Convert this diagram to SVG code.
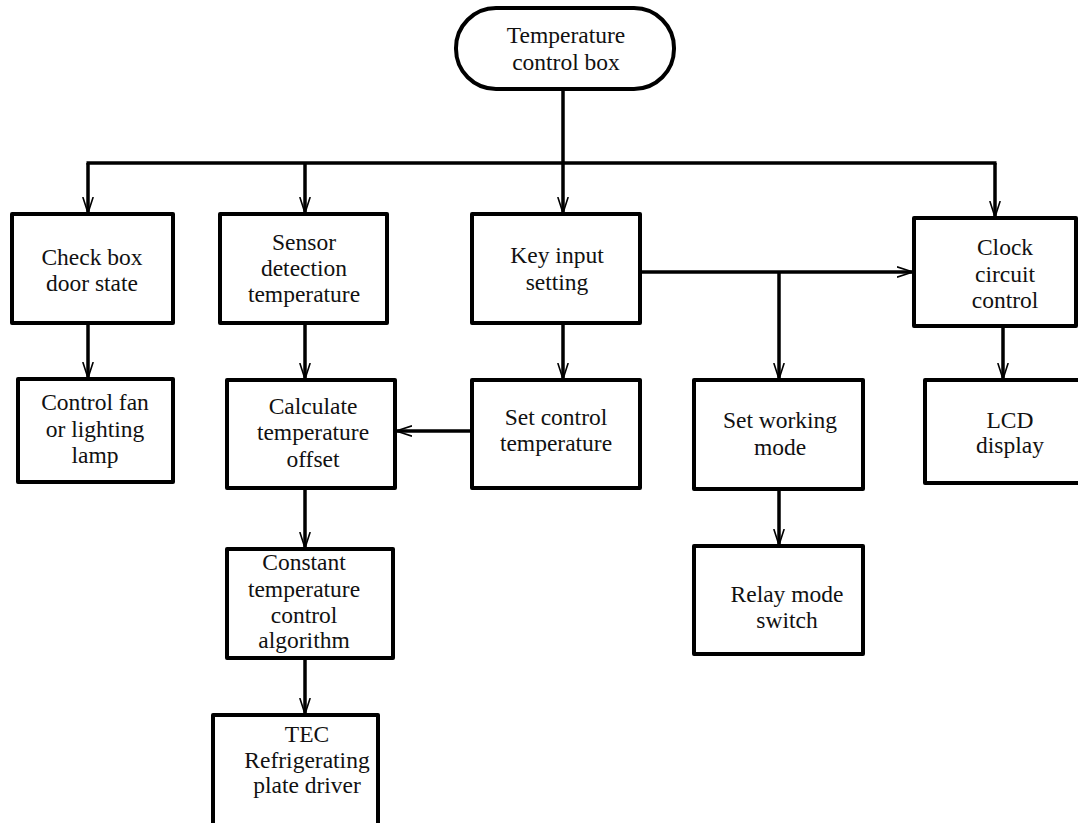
<svg xmlns="http://www.w3.org/2000/svg" width="1078" height="823" viewBox="0 0 1078 823">
<style>
.box{fill:#fff;stroke:#000;stroke-width:4;stroke-linejoin:round}
.ln{fill:none;stroke:#000;stroke-width:3.5}
text{font-family:"Liberation Serif","Times New Roman",serif;font-size:23.5px;fill:#111;text-anchor:middle}
</style>
<defs>
<marker id="ah" viewBox="0 0 16 12" refX="16" refY="6" markerWidth="16" markerHeight="12" markerUnits="userSpaceOnUse" orient="auto">
<path d="M0,0.8 L16,6 L0,11.2 M2,6 L16,6" fill="none" stroke="#000" stroke-width="1.6"/>
</marker>
</defs>
<rect width="1078" height="823" fill="#fff"/>
<g id="connectors">
<line class="ln" x1="563" y1="89" x2="563" y2="163"/>
<line class="ln" x1="86.5" y1="163" x2="996.5" y2="163"/>
<line class="ln" x1="88" y1="163" x2="88" y2="213" marker-end="url(#ah)"/>
<line class="ln" x1="305" y1="163" x2="305" y2="213" marker-end="url(#ah)"/>
<line class="ln" x1="563" y1="163" x2="563" y2="213" marker-end="url(#ah)"/>
<line class="ln" x1="995" y1="163" x2="995" y2="217" marker-end="url(#ah)"/>
<line class="ln" x1="640" y1="272" x2="913" y2="272" marker-end="url(#ah)"/>
<line class="ln" x1="779" y1="272" x2="779" y2="379" marker-end="url(#ah)"/>
<line class="ln" x1="88" y1="323" x2="88" y2="378" marker-end="url(#ah)"/>
<line class="ln" x1="305" y1="323" x2="305" y2="379" marker-end="url(#ah)"/>
<line class="ln" x1="563" y1="323" x2="563" y2="379" marker-end="url(#ah)"/>
<line class="ln" x1="1003" y1="326" x2="1003" y2="379" marker-end="url(#ah)"/>
<line class="ln" x1="472" y1="431" x2="396" y2="431" marker-end="url(#ah)"/>
<line class="ln" x1="305" y1="488" x2="305" y2="548" marker-end="url(#ah)"/>
<line class="ln" x1="305" y1="658" x2="305" y2="714" marker-end="url(#ah)"/>
<line class="ln" x1="779" y1="489" x2="779" y2="545" marker-end="url(#ah)"/>
</g>
<g id="n-root">
<rect class="box" x="456" y="8" width="218" height="81" rx="40" ry="40"/>
<text x="566" y="43">Temperature</text>
<text x="566" y="70">control box</text>
</g>
<g id="n-check">
<rect class="box" x="12" y="214" width="161" height="109"/>
<text x="92" y="265">Check box</text>
<text x="92" y="291">door state</text>
</g>
<g id="n-sensor">
<rect class="box" x="220" y="214" width="167" height="109"/>
<text x="304" y="250">Sensor</text>
<text x="304" y="276">detection</text>
<text x="304" y="302">temperature</text>
</g>
<g id="n-key">
<rect class="box" x="472" y="214" width="168" height="109"/>
<text x="557" y="263">Key input</text>
<text x="557" y="290">setting</text>
</g>
<g id="n-clock">
<rect class="box" x="914" y="218" width="162" height="108"/>
<text x="1005" y="255">Clock</text>
<text x="1005" y="282">circuit</text>
<text x="1005" y="308">control</text>
</g>
<g id="n-fan">
<rect class="box" x="18" y="379" width="155" height="103"/>
<text x="95" y="410">Control fan</text>
<text x="95" y="437">or lighting</text>
<text x="95" y="463">lamp</text>
</g>
<g id="n-calc">
<rect class="box" x="227" y="380" width="168" height="108"/>
<text x="313" y="414">Calculate</text>
<text x="313" y="440">temperature</text>
<text x="313" y="467">offset</text>
</g>
<g id="n-setctl">
<rect class="box" x="472" y="380" width="168" height="108"/>
<text x="556" y="425">Set control</text>
<text x="556" y="451">temperature</text>
</g>
<g id="n-mode">
<rect class="box" x="694" y="380" width="169" height="109"/>
<text x="780" y="428">Set working</text>
<text x="780" y="455">mode</text>
</g>
<g id="n-lcd">
<rect class="box" x="925" y="380" width="160" height="103"/>
<text x="1010" y="428">LCD</text>
<text x="1010" y="453">display</text>
</g>
<g id="n-const">
<rect class="box" x="227" y="549" width="166" height="109"/>
<text x="304" y="570">Constant</text>
<text x="304" y="597">temperature</text>
<text x="304" y="623">control</text>
<text x="304" y="648">algorithm</text>
</g>
<g id="n-relay">
<rect class="box" x="694" y="546" width="169" height="108"/>
<text x="787" y="602">Relay mode</text>
<text x="787" y="628">switch</text>
</g>
<g id="n-tec">
<rect class="box" x="213" y="715" width="165" height="110"/>
<text x="307" y="742">TEC</text>
<text x="307" y="768">Refrigerating</text>
<text x="307" y="793">plate driver</text>
</g>
</svg>
